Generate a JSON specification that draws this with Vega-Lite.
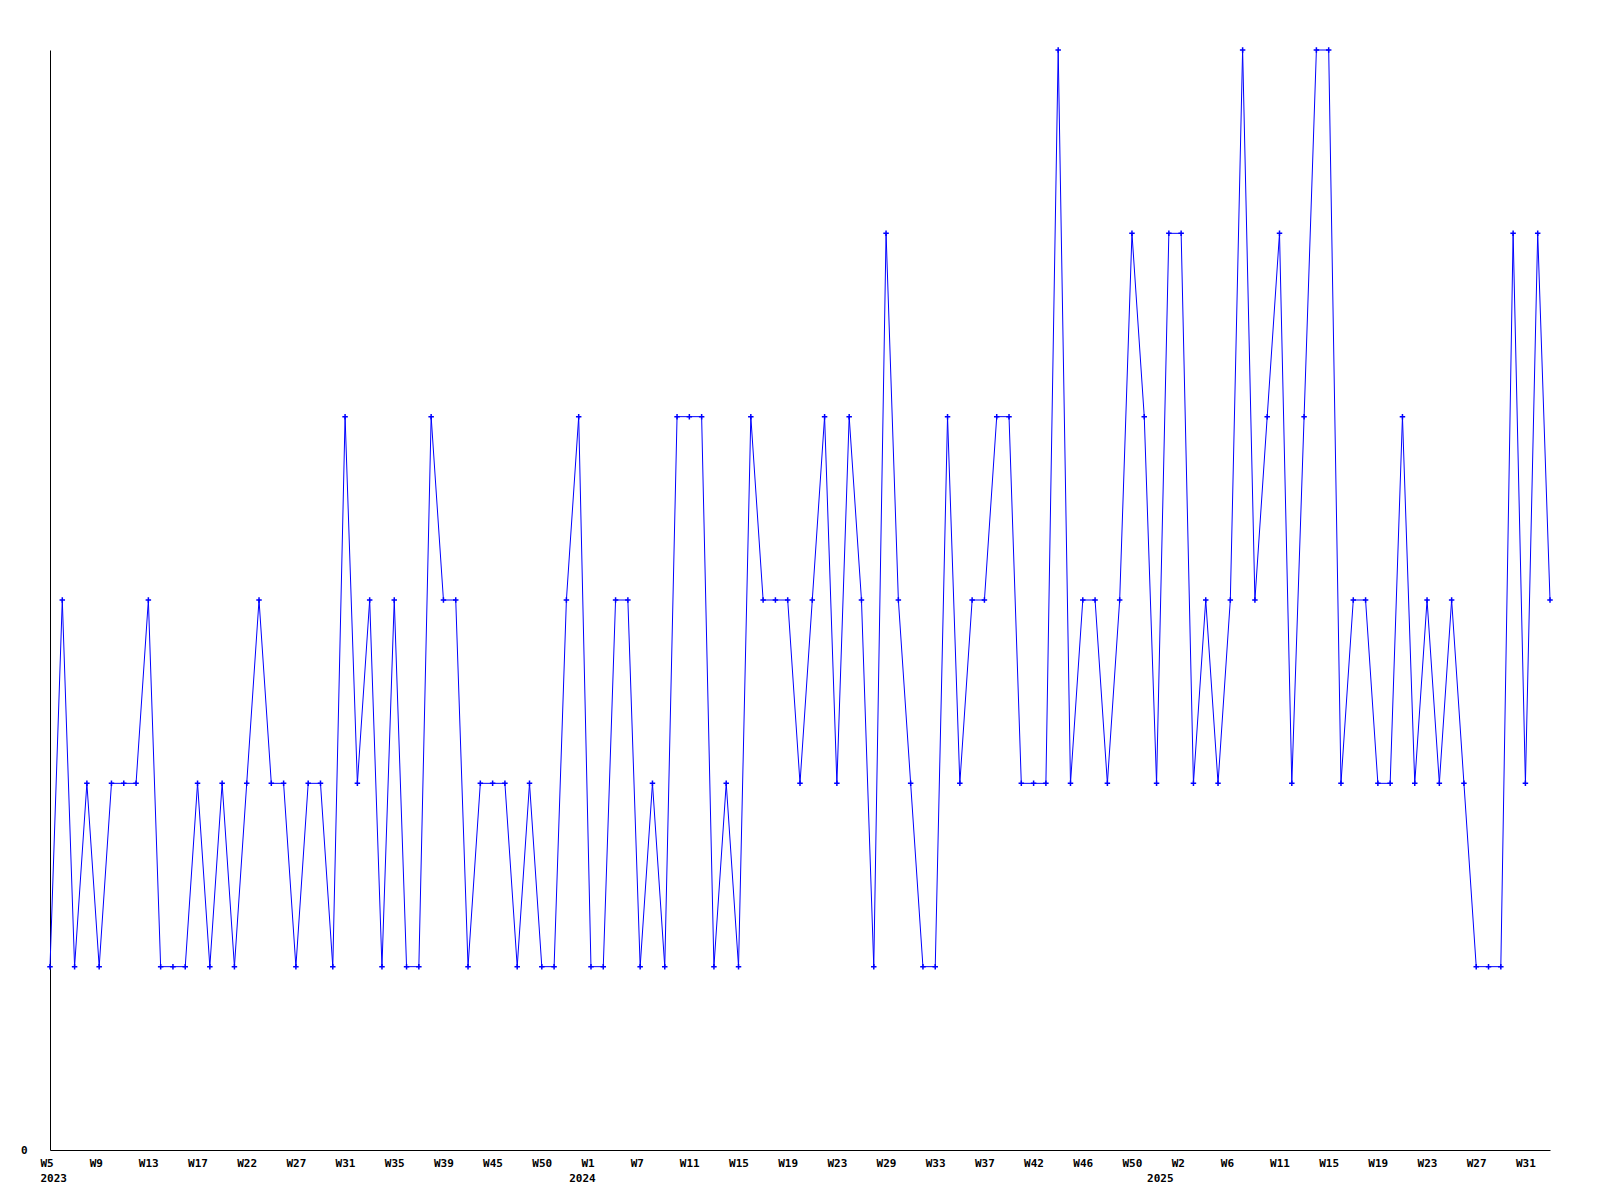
{
  "$schema": "https://vega.github.io/schema/vega-lite/v6.json",
  "width": 1500,
  "height": 1100,
  "autosize": {"type": "none"},
  "padding": {"left": 50, "top": 50, "right": 50, "bottom": 50},
  "background": "white",
  "config": {"view": {"stroke": null}, "font": "DejaVu Sans Mono"},
  "data": {"values": [
    {"week": "2023-W05", "value": 1}, {"week": "2023-W06", "value": 3}, {"week": "2023-W07", "value": 1}, {"week": "2023-W08", "value": 2},
    {"week": "2023-W09", "value": 1}, {"week": "2023-W10", "value": 2}, {"week": "2023-W11", "value": 2}, {"week": "2023-W12", "value": 2},
    {"week": "2023-W13", "value": 3}, {"week": "2023-W14", "value": 1}, {"week": "2023-W15", "value": 1}, {"week": "2023-W16", "value": 1},
    {"week": "2023-W17", "value": 2}, {"week": "2023-W18", "value": 1}, {"week": "2023-W19", "value": 2}, {"week": "2023-W20", "value": 1},
    {"week": "2023-W22", "value": 2}, {"week": "2023-W23", "value": 3}, {"week": "2023-W24", "value": 2}, {"week": "2023-W25", "value": 2},
    {"week": "2023-W27", "value": 1}, {"week": "2023-W28", "value": 2}, {"week": "2023-W29", "value": 2}, {"week": "2023-W30", "value": 1},
    {"week": "2023-W31", "value": 4}, {"week": "2023-W32", "value": 2}, {"week": "2023-W33", "value": 3}, {"week": "2023-W34", "value": 1},
    {"week": "2023-W35", "value": 3}, {"week": "2023-W36", "value": 1}, {"week": "2023-W37", "value": 1}, {"week": "2023-W38", "value": 4},
    {"week": "2023-W39", "value": 3}, {"week": "2023-W40", "value": 3}, {"week": "2023-W42", "value": 1}, {"week": "2023-W43", "value": 2},
    {"week": "2023-W45", "value": 2}, {"week": "2023-W46", "value": 2}, {"week": "2023-W47", "value": 1}, {"week": "2023-W48", "value": 2},
    {"week": "2023-W50", "value": 1}, {"week": "2023-W51", "value": 1}, {"week": "2023-W52", "value": 3}, {"week": "2024-W00", "value": 4},
    {"week": "2024-W01", "value": 1}, {"week": "2024-W02", "value": 1}, {"week": "2024-W04", "value": 3}, {"week": "2024-W05", "value": 3},
    {"week": "2024-W07", "value": 1}, {"week": "2024-W08", "value": 2}, {"week": "2024-W09", "value": 1}, {"week": "2024-W10", "value": 4},
    {"week": "2024-W11", "value": 4}, {"week": "2024-W12", "value": 4}, {"week": "2024-W13", "value": 1}, {"week": "2024-W14", "value": 2},
    {"week": "2024-W15", "value": 1}, {"week": "2024-W16", "value": 4}, {"week": "2024-W17", "value": 3}, {"week": "2024-W18", "value": 3},
    {"week": "2024-W19", "value": 3}, {"week": "2024-W20", "value": 2}, {"week": "2024-W21", "value": 3}, {"week": "2024-W22", "value": 4},
    {"week": "2024-W23", "value": 2}, {"week": "2024-W25", "value": 4}, {"week": "2024-W26", "value": 3}, {"week": "2024-W27", "value": 1},
    {"week": "2024-W29", "value": 5}, {"week": "2024-W30", "value": 3}, {"week": "2024-W31", "value": 2}, {"week": "2024-W32", "value": 1},
    {"week": "2024-W33", "value": 1}, {"week": "2024-W34", "value": 4}, {"week": "2024-W35", "value": 2}, {"week": "2024-W36", "value": 3},
    {"week": "2024-W37", "value": 3}, {"week": "2024-W38", "value": 4}, {"week": "2024-W40", "value": 4}, {"week": "2024-W41", "value": 2},
    {"week": "2024-W42", "value": 2}, {"week": "2024-W43", "value": 2}, {"week": "2024-W44", "value": 6}, {"week": "2024-W45", "value": 2},
    {"week": "2024-W46", "value": 3}, {"week": "2024-W47", "value": 3}, {"week": "2024-W48", "value": 2}, {"week": "2024-W49", "value": 3},
    {"week": "2024-W50", "value": 5}, {"week": "2024-W51", "value": 4}, {"week": "2025-W00", "value": 2}, {"week": "2025-W01", "value": 5},
    {"week": "2025-W02", "value": 5}, {"week": "2025-W03", "value": 2}, {"week": "2025-W04", "value": 3}, {"week": "2025-W05", "value": 2},
    {"week": "2025-W06", "value": 3}, {"week": "2025-W07", "value": 6}, {"week": "2025-W08", "value": 3}, {"week": "2025-W10", "value": 4},
    {"week": "2025-W11", "value": 5}, {"week": "2025-W12", "value": 2}, {"week": "2025-W13", "value": 4}, {"week": "2025-W14", "value": 6},
    {"week": "2025-W15", "value": 6}, {"week": "2025-W16", "value": 2}, {"week": "2025-W17", "value": 3}, {"week": "2025-W18", "value": 3},
    {"week": "2025-W19", "value": 2}, {"week": "2025-W20", "value": 2}, {"week": "2025-W21", "value": 4}, {"week": "2025-W22", "value": 2},
    {"week": "2025-W23", "value": 3}, {"week": "2025-W24", "value": 2}, {"week": "2025-W25", "value": 3}, {"week": "2025-W26", "value": 2},
    {"week": "2025-W27", "value": 1}, {"week": "2025-W28", "value": 1}, {"week": "2025-W29", "value": 1}, {"week": "2025-W30", "value": 5},
    {"week": "2025-W31", "value": 2}, {"week": "2025-W32", "value": 5}, {"week": "2025-W33", "value": 3}
  ]},
  "encoding": {
    "x": {
      "field": "week", "type": "ordinal", "sort": null,
      "scale": {"type": "point", "padding": 0},
      "axis": {
        "title": null, "ticks": false, "grid": false,
        "domainColor": "#000000", "domainWidth": 1,
        "labelAngle": 0, "labelOverlap": false, "labelBound": false, "labelFlush": false,
        "labelFont": "DejaVu Sans Mono", "labelFontWeight": "bold", "labelFontSize": 11,
        "labelColor": "#000000", "labelPadding": 7, "labelLineHeight": 15, "labelBaseline": "top",
        "labelAlign": "left", "labelOffset": -10,
        "values": ["2023-W05","2023-W09","2023-W13","2023-W17","2023-W22","2023-W27","2023-W31","2023-W35","2023-W39","2023-W45","2023-W50","2024-W00","2024-W01","2024-W07","2024-W11","2024-W15","2024-W19","2024-W23","2024-W29","2024-W33","2024-W37","2024-W42","2024-W46","2024-W50","2025-W00","2025-W02","2025-W06","2025-W11","2025-W15","2025-W19","2025-W23","2025-W27","2025-W31"],
        "labelExpr": "datum.value == '2023-W05' ? ['W5', '2023'] : datum.value == '2024-W00' ? ['', '2024'] : datum.value == '2025-W00' ? ['', '2025'] : 'W' + toNumber(slice(datum.value, 6))"
      }
    },
    "y": {
      "field": "value", "type": "quantitative",
      "scale": {"domain": [0, 6], "nice": false, "zero": true},
      "axis": {
        "title": null, "ticks": false, "grid": false, "values": [0],
        "domainColor": "#000000", "domainWidth": 1,
        "labelFont": "DejaVu Sans Mono", "labelFontWeight": "bold", "labelFontSize": 11,
        "labelColor": "#000000", "labelPadding": 23
      }
    }
  },
  "layer": [
    {"mark": {"type": "line", "color": "#0000ff", "strokeWidth": 1}},
    {"mark": {"type": "point", "shape": "M-1,0H1M0,-1V1", "filled": false, "stroke": "#0000ff", "strokeWidth": 1.5, "size": 30, "opacity": 1}}
  ]
}
